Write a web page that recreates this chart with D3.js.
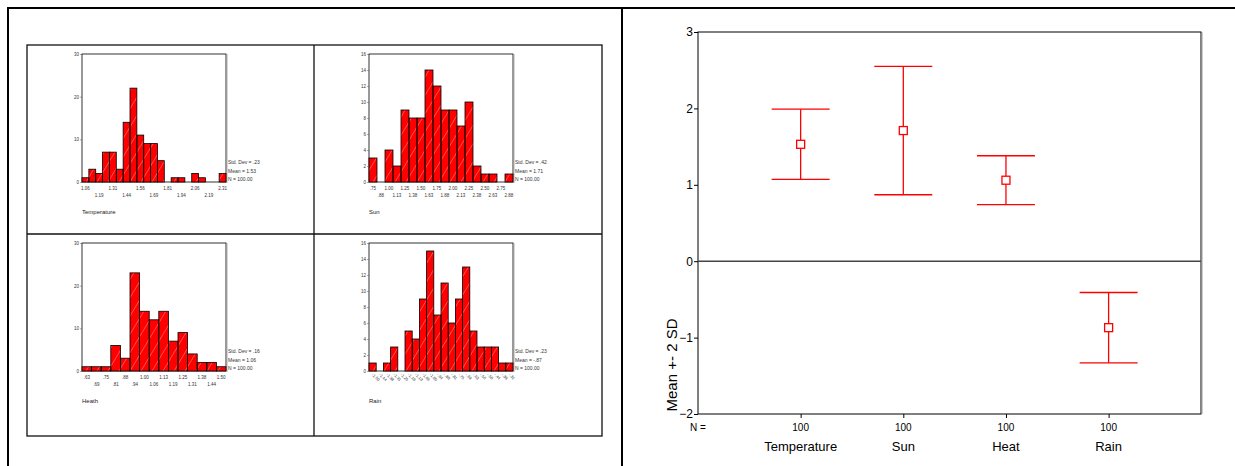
<!DOCTYPE html>
<html>
<head>
<meta charset="utf-8">
<script src="https://cdn.jsdelivr.net/npm/d3@7"></script>
<style>
  body { margin: 0; background: #fff; }
  svg { display: block; font-family: "Liberation Sans", Arial, sans-serif; }
</style>
</head>
<body>
<div id="chart"></div>
<script>
// histogram counts (one per bin)
const tempCounts  = [1, 3, 2, 7, 7, 3, 14, 22, 11, 9, 9, 5, 0, 1, 1, 0, 2, 1, 0, 0, 2];
const sunCounts   = [3, 0, 4, 2, 9, 8, 8, 14, 12, 9, 9, 7, 10, 2, 1, 1, 0, 1];
const heathCounts = [1, 1, 1, 6, 3, 23, 14, 12, 14, 7, 9, 4, 2, 2, 1];
const rainCounts  = [1, 0, 1, 3, 0, 5, 4, 9, 15, 7, 11, 6, 9, 13, 5, 3, 3, 3, 1, 1];

// x tick labels
const tempTicks  = ["1.06", "1.19", "1.31", "1.44", "1.56", "1.69", "1.81", "1.94", "2.06", "2.19", "2.31"];
const sunTicks   = [".75", ".88", "1.00", "1.13", "1.25", "1.38", "1.50", "1.63", "1.75", "1.88", "2.00", "2.13", "2.25", "2.38", "2.50", "2.63", "2.75", "2.88"];
const heathTicks = [".63", ".69", ".75", ".81", ".88", ".94", "1.00", "1.06", "1.13", "1.19", "1.25", "1.31", "1.38", "1.44", "1.50"];
const rainTicks  = ["-1.50", "-1.44", "-1.38", "-1.31", "-1.25", "-1.19", "-1.13", "-1.06", "-1.00", "-.94", "-.88", "-.81", "-.75", "-.69", "-.63", "-.56", "-.50", "-.44", "-.38", "-.31"];

// summary stats
const categories = ["Temperature", "Sun", "Heat", "Rain"];
const means      = [1.53, 1.71, 1.06, -0.87];
const sds        = [0.23, 0.42, 0.16, 0.23];
const nValues    = [100, 100, 100, 100];
const histNames  = ["Temperature", "Sun", "Heath", "Rain"];

const W = 1235, H = 466;
const svg = d3.select("#chart").append("svg").attr("width", W).attr("height", H);
const defs = svg.append("defs");

// outer frames
const frame = svg.append("g").attr("stroke", "#000").attr("stroke-width", 2).attr("fill", "none");
frame.append("line").attr("x1", 7).attr("y1", 8).attr("x2", W).attr("y2", 8);
frame.append("line").attr("x1", 8).attr("y1", 7).attr("x2", 8).attr("y2", H);
frame.append("line").attr("x1", 622).attr("y1", 7).attr("x2", 622).attr("y2", H);

// inner grid of histograms
const grid = svg.append("g").attr("stroke", "#111").attr("stroke-width", 1.3).attr("fill", "none");
grid.append("rect").attr("x", 27).attr("y", 45).attr("width", 575).attr("height", 391);
grid.append("line").attr("x1", 314).attr("y1", 45).attr("x2", 314).attr("y2", 436);
grid.append("line").attr("x1", 27).attr("y1", 234).attr("x2", 602).attr("y2", 234);

const hists = [
  { counts: tempCounts,  ticks: tempTicks,  every: 2, ymax: 30, ystep: 10, cx: 27,  cy: 45 },
  { counts: sunCounts,   ticks: sunTicks,   every: 1, ymax: 16, ystep: 2,  cx: 314, cy: 45 },
  { counts: heathCounts, ticks: heathTicks, every: 1, ymax: 30, ystep: 10, cx: 27,  cy: 234 },
  { counts: rainCounts,  ticks: rainTicks,  every: 1, ymax: 16, ystep: 2,  cx: 314, cy: 234, rotate: true }
];

hists.forEach((h, k) => {
  const left = h.cx + 55, top = h.cy + 9, pw = 144, ph = 128;
  const g = svg.append("g").attr("transform", `translate(${left},${top})`);

  const x = d3.scaleBand().domain(d3.range(h.counts.length)).range([0, pw]).padding(0);
  const y = d3.scaleLinear().domain([0, h.ymax]).range([ph, 0]);
  const bars = h.counts.map((c, i) => ({ c, i })).filter(d => d.c > 0);

  g.append("rect").attr("width", pw).attr("height", ph)
    .attr("fill", "#fff").attr("stroke", "#000").attr("stroke-width", 0.8);
  g.append("line").attr("x1", pw + 1).attr("y1", 0).attr("x2", pw + 1).attr("y2", ph + 1)
    .attr("stroke", "#999").attr("stroke-width", 0.8);

  // bars
  g.append("g").selectAll("rect").data(bars).join("rect")
    .attr("x", d => x(d.i)).attr("y", d => y(d.c))
    .attr("width", x.bandwidth()).attr("height", d => y(0) - y(d.c))
    .attr("fill", "#ff0000");

  // faint hatch clipped to the bars
  const clip = defs.append("clipPath").attr("id", "clip" + k);
  clip.selectAll("rect").data(bars).join("rect")
    .attr("x", d => x(d.i)).attr("y", d => y(d.c))
    .attr("width", x.bandwidth()).attr("height", d => y(0) - y(d.c));
  g.append("g").attr("clip-path", `url(#clip${k})`).selectAll("line")
    .data(d3.range(-ph, pw + ph, 11)).join("line")
    .attr("x1", d => d).attr("y1", ph).attr("x2", d => d + ph * 0.6).attr("y2", 0)
    .attr("stroke", "#ffffff").attr("stroke-opacity", 0.45).attr("stroke-width", 0.7);

  g.append("g").selectAll("rect").data(bars).join("rect")
    .attr("x", d => x(d.i)).attr("y", d => y(d.c))
    .attr("width", x.bandwidth()).attr("height", d => y(0) - y(d.c))
    .attr("fill", "none").attr("stroke", "#000").attr("stroke-width", 0.8);

  // y axis
  const yAxis = g.append("g").call(d3.axisLeft(y).tickValues(d3.range(0, h.ymax + 0.1, h.ystep)).tickSize(2).tickPadding(1));
  yAxis.select(".domain").remove();
  yAxis.selectAll("text").attr("font-size", 4.5).attr("fill", "#333");
  yAxis.selectAll("line").attr("stroke", "#555").attr("stroke-width", 0.5);

  // x tick labels
  h.ticks.forEach((t, j) => {
    const bi = j * h.every;
    const tx = x(bi) + x.bandwidth() / 2;
    if (h.rotate) {
      g.append("text").attr("transform", `translate(${tx - 1},${ph + 4}) rotate(45)`)
        .attr("font-size", 4).attr("fill", "#333").text(t);
    } else {
      g.append("text").attr("x", tx).attr("y", ph + (j % 2 === 0 ? 7.5 : 14.5))
        .attr("text-anchor", "middle").attr("font-size", 4.5).attr("fill", "#333").text(t);
    }
  });

  // stats
  const stats = [`Std. Dev = ${sds[k].toFixed(2).replace(/^0/, "")}`,
                 `Mean = ${means[k].toFixed(2).replace(/^(-?)0/, "$1")}`,
                 `N = ${nValues[k].toFixed(2)}`];
  stats.forEach((s, j) => {
    g.append("text").attr("x", pw + 2).attr("y", ph - 18 + j * 8.5)
      .attr("font-size", 5).attr("fill", "#333").text(s);
  });

  g.append("text").attr("x", 0).attr("y", ph + 32)
    .attr("font-size", 6).attr("fill", "#222").text(histNames[k]);
});

// ---------------- error bar chart ----------------
const pl = 698, pr = 1201, pt = 32, pb = 414;
const ex = d3.scaleLinear().domain([0, 4.9]).range([pl, pr]);
const ey = d3.scaleLinear().domain([-2, 3]).range([pb, pt]);

const eg = svg.append("g");
eg.append("rect").attr("x", pl).attr("y", pt).attr("width", pr - pl).attr("height", pb - pt)
  .attr("fill", "none").attr("stroke", "#000").attr("stroke-width", 1);
eg.append("line").attr("x1", pr + 1).attr("y1", pt).attr("x2", pr + 1).attr("y2", pb)
  .attr("stroke", "#999").attr("stroke-width", 1);

// zero reference line
eg.append("line").attr("x1", pl).attr("x2", pr).attr("y1", ey(0)).attr("y2", ey(0))
  .attr("stroke", "#444").attr("stroke-width", 1.6);

const ay = eg.append("g").attr("transform", `translate(${pl},0)`)
  .call(d3.axisLeft(ey).ticks(5).tickSize(4).tickPadding(1).tickFormat(d3.format("d")));
ay.select(".domain").remove();
ay.selectAll("text").attr("font-size", 12).attr("fill", "#000")
  .attr("font-family", "'Liberation Sans', Arial, sans-serif");
ay.selectAll("line").attr("stroke", "#000");

const ax = eg.append("g").attr("transform", `translate(0,${pb})`)
  .call(d3.axisBottom(ex).tickValues([1, 2, 3, 4]).tickSize(4).tickFormat(""));
ax.select(".domain").remove();
ax.selectAll("line").attr("stroke", "#000");

eg.append("text").attr("x", pl).attr("y", 431).attr("text-anchor", "middle")
  .attr("font-size", 10).text("N =");

categories.forEach((c, i) => {
  const cx = ex(i + 1);
  const lo = ey(means[i] - 2 * sds[i]), hi = ey(means[i] + 2 * sds[i]), m = ey(means[i]);
  const b = eg.append("g").attr("stroke", "#ff0000").attr("stroke-width", 1.3).attr("fill", "none");
  b.append("line").attr("x1", cx).attr("x2", cx).attr("y1", hi).attr("y2", m - 4);
  b.append("line").attr("x1", cx).attr("x2", cx).attr("y1", m + 4).attr("y2", lo);
  b.append("line").attr("x1", cx - 29).attr("x2", cx + 29).attr("y1", hi).attr("y2", hi);
  b.append("line").attr("x1", cx - 29).attr("x2", cx + 29).attr("y1", lo).attr("y2", lo);
  b.append("rect").attr("x", cx - 4).attr("y", m - 4).attr("width", 8).attr("height", 8);

  eg.append("text").attr("x", cx).attr("y", 431).attr("text-anchor", "middle")
    .attr("font-size", 10).text(nValues[i]);
  eg.append("text").attr("x", cx).attr("y", 451).attr("text-anchor", "middle")
    .attr("font-size", 13).text(c);
});

eg.append("text").attr("transform", `translate(677,365) rotate(-90)`)
  .attr("text-anchor", "middle").attr("font-size", 15).text("Mean +- 2 SD");
</script>
</body>
</html>
